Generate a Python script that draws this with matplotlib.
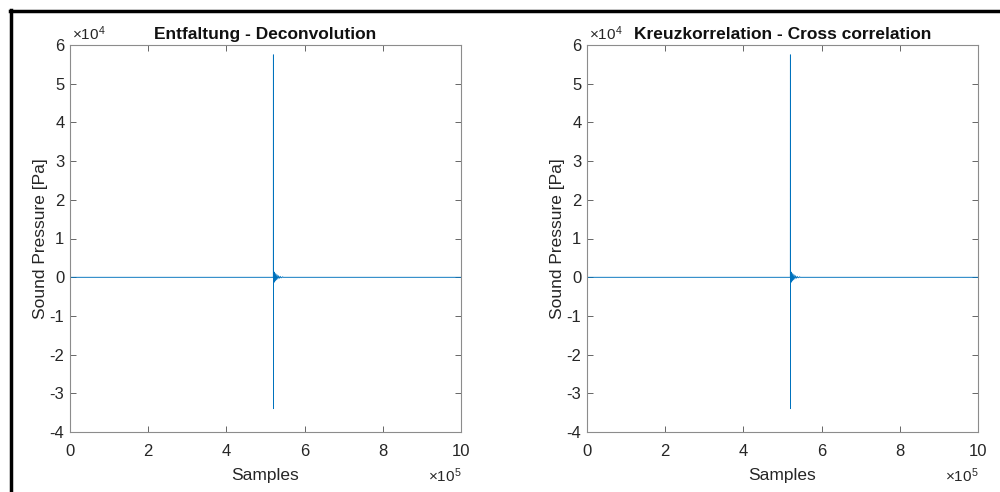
import numpy as np
import matplotlib.pyplot as plt
from matplotlib.ticker import FuncFormatter
from matplotlib.lines import Line2D

plt.rcParams['font.family'] = ['Liberation Sans', 'DejaVu Sans']
plt.rcParams['mathtext.fontset'] = 'custom'
plt.rcParams['mathtext.rm'] = 'Liberation Sans'
plt.rcParams['mathtext.it'] = 'Liberation Sans'

# impulse response (samples, Pa)
samples = [0, 200000, 519000, 519800, 520000, 520150, 520400, 520900, 521500, 522200,
           523000, 523900, 524900, 526000, 527200, 528500, 530000, 531600, 533400,
           535400, 537600, 540000, 543000, 546000, 600000, 800000, 1000000]
pressure_deconv = [0, 0, 0, 0, 57500, -34000, 1600, -1500, 1400, -1300,
                   1200, -1100, 1000, -900, 800, -700, 600, -500, 400,
                   -300, 250, -200, 120, 0, 0, 0, 0]
pressure_xcorr = [0, 0, 0, 0, 57500, -34000, 1600, -1500, 1400, -1300,
                  1200, -1100, 1000, -900, 800, -700, 600, -500, 400,
                  -300, 250, -200, 120, 0, 0, 0, 0]

titles = ['Entfaltung - Deconvolution', 'Kreuzkorrelation - Cross correlation']
series = [pressure_deconv, pressure_xcorr]
xticks = [0, 2e5, 4e5, 6e5, 8e5, 1e6]
yticks = [-4e4, -3e4, -2e4, -1e4, 0, 1e4, 2e4, 3e4, 4e4, 5e4, 6e4]

fig = plt.figure(figsize=(10, 4.92), dpi=100)
W, H = 1000, 492
boxes = [(70, 461), (587, 978)]
top, bottom = 45, 432

blue = '#0072BD'
grey = '#262626'

for (x0, x1), title, vals in zip(boxes, titles, series):
    ax = fig.add_axes([x0 / W, 1 - bottom / H, (x1 - x0) / W, (bottom - top) / H])
    ax.plot(samples, vals, color=blue, lw=0.5)
    ax.axhline(0, color=blue, lw=0.6, alpha=0.6)
    ax.set_xlim(0, 1e6)
    ax.set_ylim(-4e4, 6e4)
    ax.set_xticks(xticks)
    ax.set_yticks(yticks)
    ax.xaxis.set_major_formatter(FuncFormatter(lambda v, p: '%g' % (v / 1e5)))
    ax.yaxis.set_major_formatter(FuncFormatter(lambda v, p: '%g' % (v / 1e4)))
    ax.tick_params(direction='in', top=True, right=True, length=4, width=0.6,
                   colors='#4d4d4d', labelcolor=grey, labelsize=12)
    ax.tick_params(axis='x', pad=9)
    ax.tick_params(axis='y', pad=4)
    for s in ax.spines.values():
        s.set_color('#8c8c8c')
        s.set_linewidth(0.8)
    ax.set_xlabel('Samples', fontsize=12.5, color=grey, labelpad=6)
    ax.set_ylabel('Sound Pressure [Pa]', fontsize=12.5, color=grey, labelpad=1)
    ax.set_title(title, fontsize=12.5, fontweight='bold', color='#111111', pad=4)
    ax.text(0.004, 1.004, '×10$^{4}$', transform=ax.transAxes, fontsize=11,
            color=grey, ha='left', va='bottom')
    ax.text(1.002, -0.088, '×10$^{5}$', transform=ax.transAxes, fontsize=11,
            color=grey, ha='right', va='top')

# screenshot frame on the left and top
fig.add_artist(Line2D([11 / W, 11 / W], [0, 1 - 10 / H], transform=fig.transFigure,
                      color='black', lw=2.5))
fig.add_artist(Line2D([10 / W, 1], [1 - 11 / H, 1 - 11 / H], transform=fig.transFigure,
                      color='black', lw=2.5))

fig.savefig('out.png', dpi=100)
